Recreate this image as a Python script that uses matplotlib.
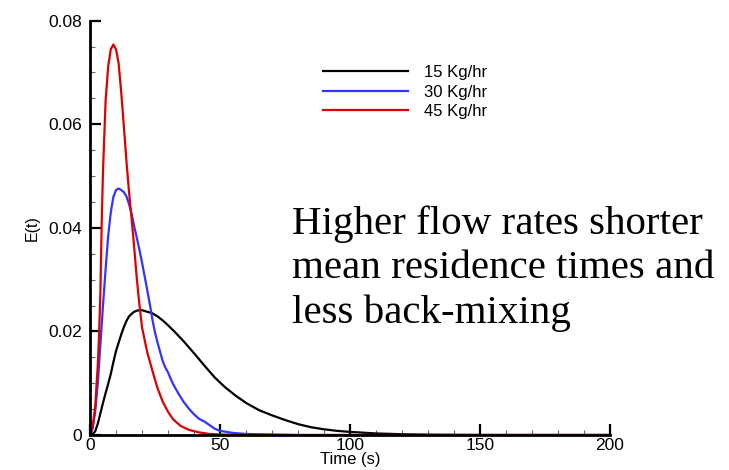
import matplotlib
matplotlib.use("Agg")
import matplotlib.pyplot as plt
from matplotlib.ticker import MultipleLocator, FuncFormatter

# ---- data ----
t_15 = [0, 1, 2, 3, 4, 5, 6, 7, 8, 9, 10, 11, 12, 13, 14, 15, 16, 17, 18, 19, 20,
        22, 24, 26, 28, 30, 33, 36, 40, 44, 48, 52, 56, 60, 65, 70, 75, 80, 85,
        90, 95, 100, 110, 120, 130, 150, 200]
e_15 = [0.0, 0.0002, 0.0007, 0.0022, 0.0042, 0.0062, 0.0081, 0.0099, 0.0118, 0.0141,
        0.0162, 0.0178, 0.0194, 0.0208, 0.0220, 0.0229, 0.0234, 0.0238, 0.0240,
        0.0241, 0.0241, 0.0238, 0.0235, 0.0229, 0.0221, 0.0212, 0.0197, 0.0181,
        0.0158, 0.0134, 0.0111, 0.0092, 0.0076, 0.0062, 0.0048, 0.0038, 0.0029,
        0.0021, 0.0015, 0.0011, 0.0008, 0.0006, 0.0003, 0.00015, 0.00006, 0.0, 0.0]

t_30 = [0, 1, 2, 3, 4, 5, 6, 7, 8, 9, 10, 11, 12, 13, 14, 15, 16, 17, 18, 19, 20,
        21, 22, 23, 24, 25, 26, 27, 28, 29, 30, 31, 32, 34, 36, 38, 40, 42, 44,
        46, 48, 50, 55, 60, 70, 80, 200]
e_30 = [0.0, 0.0012, 0.0045, 0.0100, 0.0175, 0.0250, 0.0320, 0.0385, 0.0430, 0.0460,
        0.0473, 0.0476, 0.0473, 0.0469, 0.0461, 0.0446, 0.0427, 0.0403, 0.0381,
        0.0358, 0.0333, 0.0307, 0.0280, 0.0253, 0.0223, 0.0198, 0.0178, 0.0160,
        0.0142, 0.0130, 0.0121, 0.0109, 0.0098, 0.0080, 0.0064, 0.0051, 0.0040,
        0.0031, 0.0026, 0.0019, 0.0012, 0.0008, 0.0004, 0.0002, 0.0001, 0.0, 0.0]

t_45 = [0, 1, 2, 3, 3.5, 4, 4.5, 5, 6, 7, 8, 9, 10, 11, 12, 13, 14, 15, 16, 17, 18,
        19, 20, 22, 24, 26, 28, 30, 32, 35, 38, 42, 46, 50, 60, 200]
e_45 = [0.0, 0.0015, 0.0055, 0.0135, 0.0195, 0.0275, 0.0410, 0.0510, 0.0645, 0.0712,
        0.0745, 0.0754, 0.0745, 0.0718, 0.0662, 0.0598, 0.0530, 0.0470, 0.0418,
        0.0362, 0.0302, 0.0252, 0.0208, 0.0160, 0.0124, 0.0090, 0.0064, 0.0045,
        0.0030, 0.0017, 0.0010, 0.0005, 0.0002, 0.0001, 0.0, 0.0]

labels = ["15 Kg/hr", "30 Kg/hr", "45 Kg/hr"]
colors = ["#000000", "#3333ff", "#dd0000"]
x_ticks = [0, 50, 100, 150, 200]
y_ticks = [0, 0.02, 0.04, 0.06, 0.08]
note_lines = ["Higher flow rates shorter", "mean residence times and", "less back-mixing"]

plt.rcParams['font.family'] = ['Liberation Sans', 'DejaVu Sans']

W, H = 729, 470
fig = plt.figure(figsize=(W / 100, H / 100), dpi=100)
ax = fig.add_axes([90 / W, (H - 435) / H, (610 - 90) / W, (435 - 20.7) / H])

for t, e, lab, c in zip([t_15, t_30, t_45], [e_15, e_30, e_45], labels, colors):
    ax.plot(t, e, color=c, lw=1.6, label=lab, solid_joinstyle='round')

ax.set_xlim(0, 200)
ax.set_ylim(0, 0.08)
ax.set_xticks(x_ticks)
ax.set_yticks(y_ticks)
ax.xaxis.set_minor_locator(MultipleLocator(10))
ax.yaxis.set_minor_locator(MultipleLocator(0.005))

def yfmt(v, pos):
    return "0" if abs(v) < 1e-12 else ("%.2f" % v)

ax.yaxis.set_major_formatter(FuncFormatter(yfmt))

for s in ['top', 'right']:
    ax.spines[s].set_visible(False)
for s in ['left', 'bottom']:
    ax.spines[s].set_linewidth(2.0)

ax.tick_params(which='major', direction='in', length=8, width=1.6, labelsize=12.5)
ax.tick_params(which='minor', direction='in', length=3.5, width=0.8, color='#666666')
ax.tick_params(axis='y', which='major', pad=6)
ax.tick_params(axis='x', which='major', pad=2)

ax.set_xlabel("Time (s)", fontsize=12, labelpad=-0.5)
ax.set_ylabel("E(t)", fontsize=11.5, labelpad=6)

leg = ax.legend(loc='upper left', bbox_to_anchor=(323 / W, (H - 65) / H),
                bbox_transform=fig.transFigure, frameon=False, fontsize=12,
                handlelength=5.1, handletextpad=0.96, labelspacing=0.27,
                borderpad=0, borderaxespad=0)
for line in leg.get_lines():
    line.set_linewidth(1.6)

baselines = [234, 278, 323]
for txt, b in zip(note_lines, baselines):
    fig.text(292 / W, (H - b) / H, txt, fontsize=29.5, va='baseline', ha='left',
             family=['Liberation Serif', 'DejaVu Serif'])

fig.savefig("out.png", dpi=100)
